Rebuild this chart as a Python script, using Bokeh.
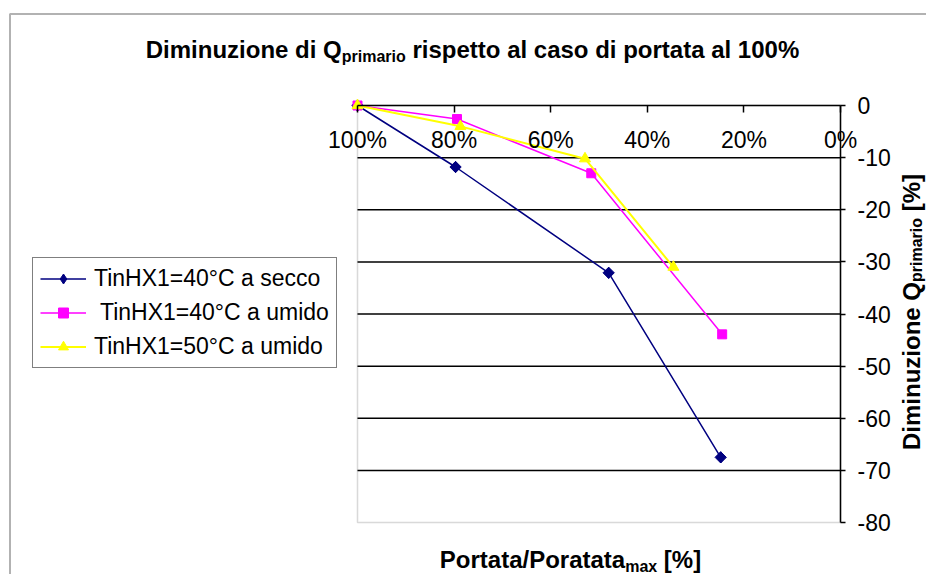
import math
from bokeh.plotting import figure
from bokeh.models import (Range1d, LinearAxis, FixedTicker, Label, Legend,
                          LegendItem, Grid, BoxAnnotation)
from bokeh.embed import file_html
from bokeh.resources import INLINE

# ---------------- data ----------------
series_names = ["TinHX1=40°C a secco", " TinHX1=40°C a umido", "TinHX1=50°C a umido"]
x_secco = [100, 79.7, 48.0, 24.8]
y_secco = [0, -11.8, -32.1, -67.5]
x_umido40 = [100, 79.4, 51.6, 24.5]
y_umido40 = [0, -2.6, -13.0, -43.9]
x_umido50 = [100, 78.7, 52.9, 34.6]
y_umido50 = [0, -4.0, -10.2, -31.0]
x_ticks = [100, 80, 60, 40, 20, 0]
x_tick_labels = ["100%", "80%", "60%", "40%", "20%", "0%"]
y_ticks = [0, -10, -20, -30, -40, -50, -60, -70, -80]
y_tick_labels = ["0", "-10", "-20", "-30", "-40", "-50", "-60", "-70", "-80"]
grid_ticks = [-10, -20, -30, -40, -50, -60, -70]
x_limits = [100, 0]
y_limits = [-80, 0]

title_parts = ["Diminuzione di Q", "primario", " rispetto al caso di portata al 100%"]
xtitle_parts = ["Portata/Poratata", "max", " [%]"]
ytitle_parts = ["Diminuzione Q", "primario", " [%]"]

colors = ["#000080", "#FF00FF", "#FFFF00"]

FONT = "Liberation Sans"

# Arial / Liberation Sans Bold advance widths (per 1000 em)
BOLD_W = {" ": 278, "%": 889, "/": 278, "0": 556, "1": 556, "D": 722, "P": 667,
          "Q": 778, "[": 333, "]": 333, "a": 556, "c": 556, "d": 611, "e": 556,
          "i": 278, "l": 278, "m": 889, "n": 611, "o": 611, "p": 611, "r": 389,
          "s": 556, "t": 333, "u": 611, "x": 556, "z": 500}
CAP_MID = 0.358   # half of the cap height, in em


def bw(s, size):
    return sum(BOLD_W.get(ch, 556) for ch in s) * size / 1000.0


# ---------------- geometry (page px) ----------------
W, H = 926, 574
OX, OY = 0, 0                         # page position of the canvas
FL, FT, FR, FB = 357, 105, 840, 522   # plot area in page px

# data ranges chosen so that the plot area sits at FL..FR / FT..FB
ppx = (FR - FL) / (x_limits[0] - x_limits[1])
ppy = (FB - FT) / (y_limits[1] - y_limits[0])
x_start = x_limits[0] + (FL - OX) / ppx
x_end = x_limits[1] - (OX + W - FR) / ppx
y_end = y_limits[1] + (FT - OY) / ppy
y_start = y_limits[0] - (OY + H - FB) / ppy

p = figure(width=W, height=H, x_range=Range1d(x_start, x_end),
           y_range=Range1d(y_start, y_end),
           output_backend="svg", toolbar_location=None,
           x_axis_location=None, y_axis_location=None, min_border=0)
p.center = [r for r in p.center if not isinstance(r, Grid)]
p.background_fill_color = "white"
p.border_fill_color = "white"
p.outline_line_color = None


def sx(px):
    return px - OX


def sy(py):
    return OY + H - py


# outer chart border (extends past right / bottom edge)
p.add_layout(BoxAnnotation(left=sx(9.5), right=sx(1100), top=sy(13.5), bottom=sy(800),
                           left_units="screen", right_units="screen",
                           top_units="screen", bottom_units="screen",
                           fill_alpha=0, line_color="black", line_width=2,
                           level="underlay"))

# plot area border (grey); top/right get covered by the axes
p.add_layout(BoxAnnotation(left=x_limits[0], right=x_limits[1], top=y_limits[1],
                           bottom=y_limits[0], fill_color="white", fill_alpha=1,
                           line_color="#808080", line_width=1.5, level="underlay"))

# horizontal grid lines across the plot area
p.segment(x0=[x_limits[0]] * len(grid_ticks), x1=[x_limits[1]] * len(grid_ticks),
          y0=grid_ticks, y1=grid_ticks, line_color="black", line_width=1.5)

# x axis crossing at y = 0 (top of plot area), labels below the line
xaxis = LinearAxis(ticker=FixedTicker(ticks=x_ticks),
                   major_label_overrides=dict(zip(x_ticks, x_tick_labels)),
                   fixed_location=y_limits[1], bounds=(x_limits[1], x_limits[0]))
xaxis.major_tick_in = 0
xaxis.major_tick_out = 7
xaxis.minor_tick_in = 0
xaxis.minor_tick_out = 0
xaxis.axis_line_color = "black"
xaxis.axis_line_width = 1.5
xaxis.major_tick_line_color = "black"
xaxis.major_tick_line_width = 1.5
xaxis.major_label_text_font = FONT
xaxis.major_label_text_font_size = "23px"
xaxis.major_label_text_color = "black"
xaxis.major_label_standoff = 14
p.add_layout(xaxis, "below")

# y axis on the right side of the plot area
yaxis = LinearAxis(ticker=FixedTicker(ticks=y_ticks),
                   major_label_overrides=dict(zip(y_ticks, y_tick_labels)),
                   fixed_location=x_limits[1], bounds=(y_limits[0], y_limits[1]))
yaxis.major_tick_in = 0
yaxis.major_tick_out = 5
yaxis.minor_tick_in = 0
yaxis.minor_tick_out = 0
yaxis.axis_line_color = "black"
yaxis.axis_line_width = 1.5
yaxis.major_tick_line_color = "black"
yaxis.major_tick_line_width = 1.5
yaxis.major_label_text_font = FONT
yaxis.major_label_text_font_size = "23px"
yaxis.major_label_text_color = "black"
yaxis.major_label_standoff = 12
p.add_layout(yaxis, "right")

# series
r1l = p.line(x_secco, y_secco, line_color=colors[0], line_width=1.5)
r1s = p.scatter(x_secco, y_secco, marker="square", angle=math.pi / 4, size=8,
                fill_color=colors[0], line_color=colors[0])
r1d = p.scatter(x_secco, y_secco, marker="diamond", size=11,
                fill_color=colors[0], line_color=colors[0])
r2l = p.line(x_umido40, y_umido40, line_color=colors[1], line_width=1.5)
r2s = p.scatter(x_umido40, y_umido40, marker="square", size=9,
                fill_color=colors[1], line_color=colors[1])
r3l = p.line(x_umido50, y_umido50, line_color=colors[2], line_width=2)
r3s = p.scatter(x_umido50, y_umido50, marker="triangle", size=11,
                fill_color=colors[2], line_color=colors[2])

legend = Legend(items=[
    LegendItem(label=series_names[0], renderers=[r1l, r1d]),
    LegendItem(label=series_names[1], renderers=[r2l, r2s]),
    LegendItem(label=series_names[2], renderers=[r3l, r3s]),
], location=(sx(32), sy(368)))
legend.margin = 0
legend.padding = 7
legend.spacing = 7
legend.glyph_width = 46
legend.glyph_height = 25
legend.label_height = 26
legend.label_standoff = 8
legend.label_text_font = FONT
legend.label_text_font_size = "23px"
legend.label_text_color = "black"
legend.border_line_color = "black"
legend.border_line_width = 1
legend.background_fill_color = "white"
legend.background_fill_alpha = 1.0
p.add_layout(legend)

# ---------------- texts with subscripts ----------------
MAIN = 24
SUB = 16


def add_text(x, y, text, size, angle=0.0):
    p.add_layout(Label(x=x, y=y, x_units="screen", y_units="screen", text=text,
                       text_font=FONT, text_font_size=f"{size}px",
                       text_font_style="bold", text_color="black",
                       text_align="left", text_baseline="middle",
                       angle=angle))


def lead(s, size):
    # width of leading spaces (they are not kept by the renderer)
    n = len(s) - len(s.lstrip(" "))
    return bw(" " * n, size)


def sub_shift(drop):
    # offset between the middle of the main text and of the subscript
    return drop + CAP_MID * (MAIN - SUB)


def horizontal_title(parts, cx, cy):
    w0 = bw(parts[0], MAIN)
    w1 = bw(parts[1], SUB)
    w2 = bw(parts[2], MAIN)
    x0 = cx - (w0 + w1 + w2) / 2
    add_text(sx(x0), sy(cy), parts[0], MAIN)
    add_text(sx(x0 + w0), sy(cy + sub_shift(4)), parts[1], SUB)
    add_text(sx(x0 + w0 + w1 + lead(parts[2], MAIN)), sy(cy),
             parts[2].lstrip(" "), MAIN)


horizontal_title(title_parts, 472, 49)
horizontal_title(xtitle_parts, 570, 559)

# vertical (right) axis title, reading bottom to top
w0 = bw(ytitle_parts[0], MAIN)
w1 = bw(ytitle_parts[1], SUB)
w2 = bw(ytitle_parts[2], MAIN)
cy = (FT + FB) / 2 - 2
start = cy + (w0 + w1 + w2) / 2
mid_x = 911
add_text(sx(mid_x), sy(start), ytitle_parts[0], MAIN, math.pi / 2)
add_text(sx(mid_x + sub_shift(2)), sy(start - w0), ytitle_parts[1], SUB, math.pi / 2)
add_text(sx(mid_x), sy(start - w0 - w1 - lead(ytitle_parts[2], MAIN)),
         ytitle_parts[2].lstrip(" "), MAIN, math.pi / 2)

open("out.html", "w").write(file_html(p, INLINE))
